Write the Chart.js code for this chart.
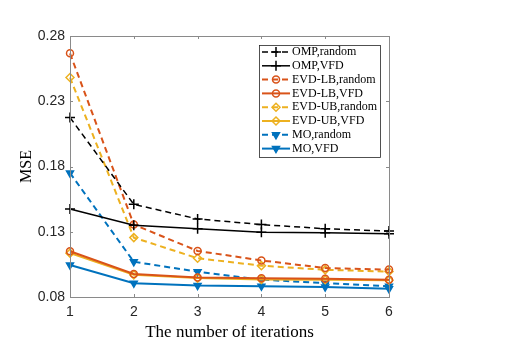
<!DOCTYPE html>
<html lang="en">
<head>
  <meta charset="UTF-8" />
  <title>MSE vs iterations</title>
  <script src="https://cdn.jsdelivr.net/npm/chart.js"></script>
  <style>
    html, body { margin: 0; padding: 0; background: #fff; }
    #wrap { width: 526px; height: 344px; position: relative; }
  </style>
</head>
<body>
<div id="wrap"><canvas id="mseChart"></canvas></div>

<script>
  // values
  const iterations = ['1', '2', '3', '4', '5', '6'];
  const yTicks = [0.08, 0.13, 0.18, 0.23, 0.28];

  const ompRandom   = [0.2175, 0.151, 0.1398, 0.1355, 0.1323, 0.1305];
  const ompVfd      = [0.1474, 0.135, 0.1323, 0.1297, 0.1292, 0.1285];
  const evdLbRandom = [0.2667, 0.1355, 0.1153, 0.108, 0.1022, 0.101];
  const evdLbVfd    = [0.1151, 0.0977, 0.095, 0.0943, 0.0939, 0.0932];
  const evdUbRandom = [0.2482, 0.1255, 0.1097, 0.104, 0.1008, 0.0995];
  const evdUbVfd    = [0.1136, 0.097, 0.0945, 0.0935, 0.0932, 0.0928];
  const moRandom    = [0.175, 0.107, 0.0994, 0.0933, 0.0906, 0.0883];
  const moVfd       = [0.1045, 0.0906, 0.0888, 0.0883, 0.0876, 0.0863];

  const BLACK = '#000000', ORANGE = '#D95319', YELLOW = '#EDB120', BLUE = '#0072BD';
  const DASH = [6, 4];

  function series(label, data, color, dashed, style, extra) {
    return Object.assign({
      label, data,
      borderColor: color,
      backgroundColor: 'rgba(0,0,0,0)',
      borderWidth: color === BLACK ? 1.5 : 2,
      borderDash: dashed ? DASH : [],
      pointStyle: style,
      pointRadius: 4,
      pointBorderWidth: 1.5,
      pointBorderColor: color,
      pointBackgroundColor: 'rgba(0,0,0,0)',
      pointRotation: 0,
      tension: 0
    }, extra || {});
  }

  const datasets = [
    series('OMP,random', ompRandom, BLACK, true, 'cross', { pointRadius: 5 }),
    series('OMP,VFD', ompVfd, BLACK, false, 'cross', { pointRadius: 5 }),
    series('EVD-LB,random', evdLbRandom, ORANGE, true, 'circle', { pointRadius: 3.5 }),
    series('EVD-LB,VFD', evdLbVfd, ORANGE, false, 'circle', { pointRadius: 3.5 }),
    series('EVD-UB,random', evdUbRandom, YELLOW, true, 'rectRot', { pointRadius: 4 }),
    series('EVD-UB,VFD', evdUbVfd, YELLOW, false, 'rectRot', { pointRadius: 4 }),
    series('MO,random', moRandom, BLUE, true, 'triangle', { pointRotation: 180, pointBackgroundColor: BLUE }),
    series('MO,VFD', moVfd, BLUE, false, 'triangle', { pointRotation: 180, pointBackgroundColor: BLUE })
  ];

  function marker(ctx, ds, x, y) {
    const opts = {
      pointStyle: ds.pointStyle, radius: ds.pointRadius,
      rotation: ds.pointRotation, borderWidth: ds.pointBorderWidth
    };
    ctx.save();
    ctx.setLineDash([]);
    ctx.strokeStyle = ds.pointBorderColor;
    ctx.fillStyle = ds.pointBackgroundColor;
    ctx.lineWidth = ds.pointBorderWidth;
    Chart.helpers.drawPoint(ctx, opts, x, y);
    ctx.restore();
  }

  // MATLAB-like box with inward ticks, plus legend inside the axes
  const matlabAxes = {
    id: 'matlabAxes',
    afterDraw(chart) {
      const { ctx, chartArea: a, scales: { x, y } } = chart;
      ctx.save();
      ctx.strokeStyle = '#8a8a8a';
      ctx.lineWidth = 1;
      ctx.setLineDash([]);
      ctx.strokeRect(Math.round(a.left) + 0.5, Math.round(a.top) + 0.5,
        Math.round(a.right - a.left), Math.round(a.bottom - a.top));
      const tl = 3;
      ctx.beginPath();
      iterations.forEach((_, i) => {
        const px = Math.round(x.getPixelForTick(i)) + 0.5;
        ctx.moveTo(px, a.bottom); ctx.lineTo(px, a.bottom - tl);
        ctx.moveTo(px, a.top); ctx.lineTo(px, a.top + tl);
      });
      yTicks.forEach(v => {
        const py = Math.round(y.getPixelForValue(v)) + 0.5;
        ctx.moveTo(a.left, py); ctx.lineTo(a.left + tl, py);
        ctx.moveTo(a.right, py); ctx.lineTo(a.right - tl, py);
      });
      ctx.stroke();

      // legend
      const lx = 259, ly = 45, lw = 121, lh = 112, row = 13.8;
      ctx.fillStyle = '#ffffff';
      ctx.fillRect(lx, ly, lw, lh);
      ctx.strokeStyle = '#262626';
      ctx.lineWidth = 0.8;
      ctx.strokeRect(lx + 0.5, ly + 0.5, lw, lh);
      ctx.font = '12px "Liberation Serif", serif';
      ctx.textBaseline = 'middle';
      chart.data.datasets.forEach((ds, i) => {
        const yy = ly + 7 + i * row;
        ctx.save();
        ctx.strokeStyle = ds.borderColor;
        ctx.lineWidth = ds.borderWidth;
        ctx.setLineDash(ds.borderDash);
        ctx.beginPath();
        ctx.moveTo(262, yy); ctx.lineTo(290, yy);
        ctx.stroke();
        ctx.restore();
        marker(ctx, ds, 276, yy);
        ctx.fillStyle = '#000';
        ctx.fillText(ds.label, 292, yy);
      });
      ctx.restore();
    }
  };

  const tickFont = { family: '"Liberation Sans", Arial, sans-serif', size: 14 };
  const titleFont = { family: '"Liberation Serif", "Times New Roman", serif', size: 17 };

  new Chart(document.getElementById('mseChart'), {
    type: 'line',
    data: { labels: iterations, datasets },
    options: {
      responsive: true,
      maintainAspectRatio: false,
      animation: false,
      layout: { padding: { left: 0, top: 36, right: 137, bottom: 0 } },
      plugins: { legend: { display: false }, tooltip: { enabled: false } },
      scales: {
        x: {
          type: 'category',
          offset: false,
          grid: { display: false, drawTicks: false },
          border: { display: false },
          ticks: { font: tickFont, color: '#262626', padding: 7, maxRotation: 0 },
          title: { display: true, text: 'The number of iterations', font: titleFont, color: '#000', padding: { top: 0, bottom: 1 } },
          afterFit(s) { s.height = 47; }
        },
        y: {
          min: 0.08,
          max: 0.28,
          grid: { display: false, drawTicks: false },
          border: { display: false },
          afterBuildTicks(s) { s.ticks = yTicks.map(v => ({ value: v })); },
          ticks: { font: tickFont, color: '#262626', padding: 5, callback: v => Number(v).toFixed(2) },
          title: { display: true, text: 'MSE', font: { family: titleFont.family, size: 16 }, color: '#000', padding: { top: 17, bottom: 0 } },
          afterFit(s) { s.width = 70; }
        }
      }
    },
    plugins: [matlabAxes]
  });
</script>
</body>
</html>
